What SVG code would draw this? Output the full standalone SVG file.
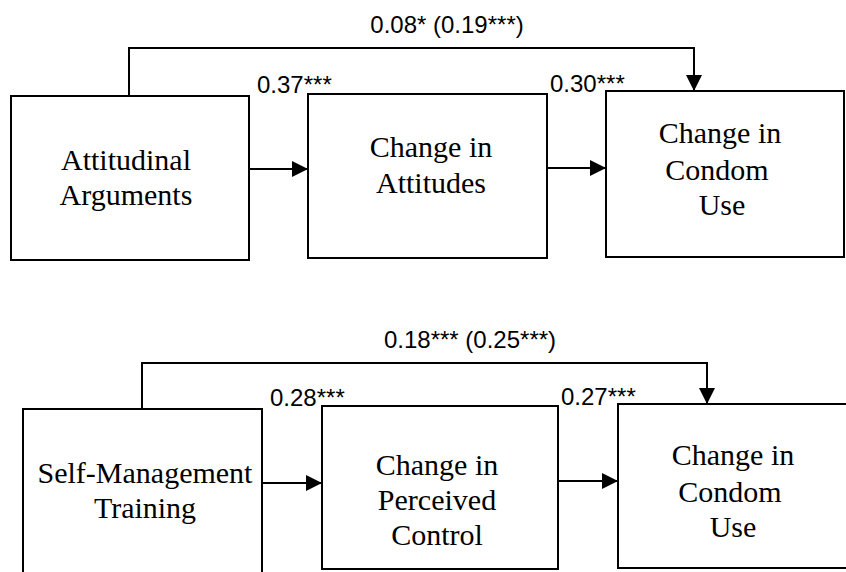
<svg xmlns="http://www.w3.org/2000/svg" width="846" height="572" viewBox="0 0 846 572">
<style>
.box{fill:#fff;stroke:#000;stroke-width:2}
.line{fill:none;stroke:#000;stroke-width:2}
.node{font-family:"Liberation Serif","Times New Roman",serif;font-size:30px;text-anchor:middle;fill:#000}
.lab{font-family:"Liberation Sans",Arial,sans-serif;font-size:24px;fill:#000}
</style>
<defs>
<marker id="arr" viewBox="0 0 10 10" refX="10" refY="5" markerWidth="17" markerHeight="16" markerUnits="userSpaceOnUse" orient="auto">
<path d="M0,0 L10,5 L0,10 Z" fill="#000"/>
</marker>
</defs>
<rect width="846" height="572" fill="#fff"/>
<g id="connectors">
<polyline class="line" points="129,96 129,48 694,48 694,91" marker-end="url(#arr)"/>
<line class="line" x1="249" y1="169" x2="308" y2="169" marker-end="url(#arr)"/>
<line class="line" x1="547" y1="168" x2="606" y2="168" marker-end="url(#arr)"/>
<polyline class="line" points="142,409 142,363 707,363 707,404" marker-end="url(#arr)"/>
<line class="line" x1="262" y1="483" x2="322" y2="483" marker-end="url(#arr)"/>
<line class="line" x1="558" y1="481" x2="618" y2="481" marker-end="url(#arr)"/>
<text class="lab" x="447" y="33" text-anchor="middle">0.08* (0.19***)</text>
<text class="lab" x="257" y="93">0.37***</text>
<text class="lab" x="550" y="92">0.30***</text>
<text class="lab" x="470" y="348" text-anchor="middle">0.18*** (0.25***)</text>
<text class="lab" x="270" y="406">0.28***</text>
<text class="lab" x="561" y="405">0.27***</text>
</g>
<g id="n1">
<rect class="box" x="11" y="96" width="238" height="164"/>
<text class="node" x="126" y="170">Attitudinal</text>
<text class="node" x="126" y="205">Arguments</text>
</g>
<g id="n2">
<rect class="box" x="308" y="94" width="239" height="164"/>
<text class="node" x="431" y="157">Change in</text>
<text class="node" x="431" y="193">Attitudes</text>
</g>
<g id="n3">
<rect class="box" x="606" y="91" width="238" height="166"/>
<text class="node" x="720" y="143">Change in</text>
<text class="node" x="717" y="180">Condom</text>
<text class="node" x="722" y="215">Use</text>
</g>
<g id="n4">
<rect class="box" x="23" y="409" width="239" height="170"/>
<text class="node" x="145" y="483">Self-Management</text>
<text class="node" x="145" y="518">Training</text>
</g>
<g id="n5">
<rect class="box" x="322" y="406" width="236" height="163"/>
<text class="node" x="437" y="475">Change in</text>
<text class="node" x="437" y="510">Perceived</text>
<text class="node" x="437" y="545">Control</text>
</g>
<g id="n6">
<rect class="box" x="618" y="404" width="240" height="164"/>
<text class="node" x="733" y="465">Change in</text>
<text class="node" x="730" y="502">Condom</text>
<text class="node" x="733" y="537">Use</text>
</g>
</svg>
